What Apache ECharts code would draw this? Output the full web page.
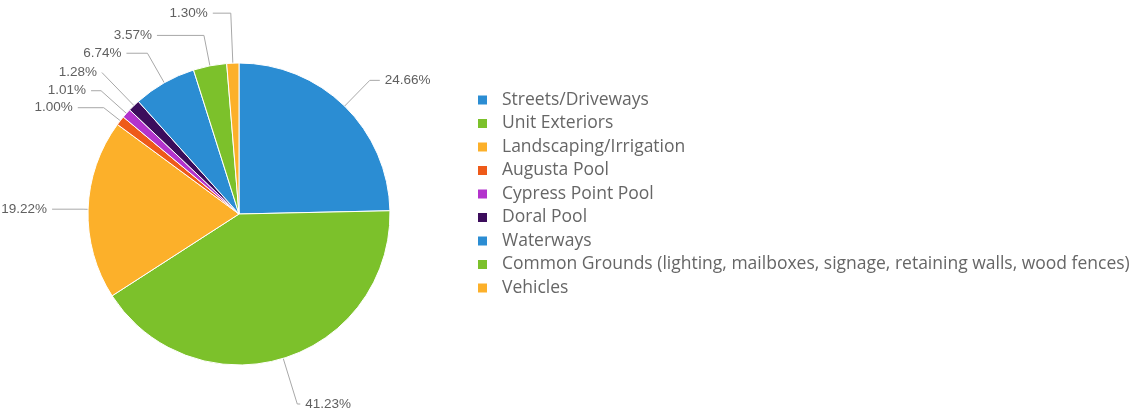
<!DOCTYPE html>
<html>
<head>
<meta charset="utf-8">
<script src="https://cdn.jsdelivr.net/npm/echarts@6/dist/echarts.min.js"></script>
<style>
html,body{margin:0;padding:0;background:#fff;}
#chart{width:1137px;height:412px;}
</style>
</head>
<body>
<div id="chart"></div>
<script>
const categories = [
  'Streets/Driveways',
  'Unit Exteriors',
  'Landscaping/Irrigation',
  'Augusta Pool',
  'Cypress Point Pool',
  'Doral Pool',
  'Waterways',
  'Common Grounds (lighting, mailboxes, signage, retaining walls, wood fences)',
  'Vehicles'
];
const values = [24.66, 41.23, 19.22, 1.00, 1.01, 1.28, 6.74, 3.57, 1.30];

const colors = ['#2b8dd3', '#7cc12b', '#fcb02a', '#ee5a19', '#b333cc', '#3c0d5c', '#2b8dd3', '#7cc12b', '#fcb02a'];
// label connector lengths [radial, horizontal] per slice (style only)
const lineLens = [[36, 10], [48, 3], [5, 31], [21, 26], [34, 10], [46, 0], [34, 21], [31, 47], [50, 18]];

const chart = echarts.init(document.getElementById('chart'));
chart.setOption({
  animation: false,
  color: colors,
  legend: {
    orient: 'vertical',
    left: 471,
    top: 86,
    itemWidth: 11,
    itemHeight: 11,
    itemGap: 5.5,
    icon: 'rect',
    textStyle: {fontFamily: 'Open Sans', fontSize: 17.5, color: '#666', padding: [0, 0, 0, 9]},
    data: categories
  },
  series: [{
    type: 'pie',
    center: [239, 214],
    radius: 151,
    startAngle: 90,
    clockwise: true,
    avoidLabelOverlap: true,
    itemStyle: {borderColor: '#fff', borderWidth: 1},
    label: {
      show: true,
      position: 'outside',
      fontFamily: 'Liberation Sans, Arial',
      fontSize: 13.5,
      color: '#606060',
      overflow: 'none',
      bleedMargin: 0,
      formatter: p => p.value.toFixed(2) + '%'
    },
    labelLine: {lineStyle: {color: '#a8a8a8', width: 1}},
    data: categories.map((c, i) => ({
      name: c,
      value: values[i],
      labelLine: {length: lineLens[i][0], length2: lineLens[i][1]}
    }))
  }]
});
</script>
</body>
</html>
